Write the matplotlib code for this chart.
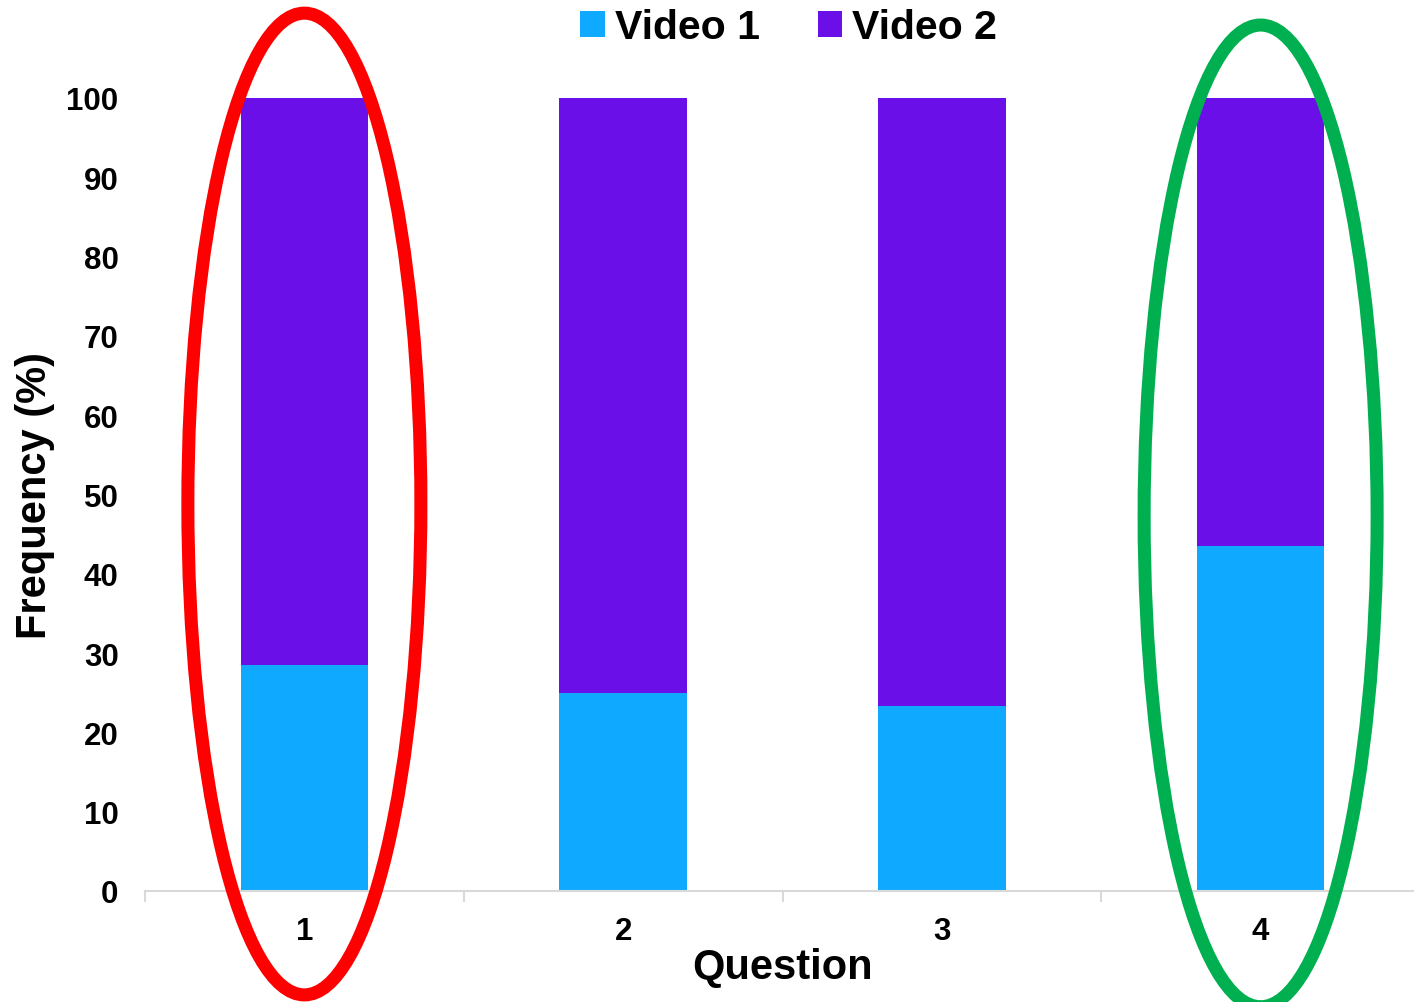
import matplotlib
matplotlib.use("Agg")
import matplotlib.pyplot as plt
from matplotlib.patches import Ellipse
import numpy as np

categories = ["1", "2", "3", "4"]
video1 = [28.5, 25.0, 23.3, 43.5]
video2 = [71.5, 75.0, 76.7, 56.5]
yticks = [0, 10, 20, 30, 40, 50, 60, 70, 80, 90, 100]

c1 = "#0FA9FF"
c2 = "#6B0FE8"

plt.rcParams['font.family'] = ['Liberation Sans', 'DejaVu Sans']
plt.rcParams['font.weight'] = 'bold'

fig = plt.figure(figsize=(14.14, 10.03), dpi=100)
ax = fig.add_axes([145/1414, 111/1003, 1275/1414, 793/1003])

x = np.arange(len(categories))
ax.bar(x, video1, width=0.40, color=c1, label="Video 1", zorder=2)
ax.bar(x, video2, width=0.40, bottom=video1, color=c2, label="Video 2", zorder=2)

ax.set_xlim(-0.5, 3.5)
ax.set_ylim(0, 100)
ax.set_yticks(yticks)
ax.set_yticklabels([str(t) for t in yticks], fontsize=22.5, fontweight='bold')
ax.set_xticks(x)
ax.set_xticklabels(categories, fontsize=22.5, fontweight='bold')
ax.tick_params(axis='y', length=0, pad=19)
ax.tick_params(axis='x', which='major', length=0, pad=18)
ax.set_xticks(np.arange(-0.5, 4.0, 1.0), minor=True)
ax.tick_params(axis='x', which='minor', length=8, color='#d9d9d9', width=1.5)

for s in ['top', 'right', 'left']:
    ax.spines[s].set_visible(False)
ax.spines['bottom'].set_color('#d9d9d9')
ax.spines['bottom'].set_linewidth(1.5)

ax.set_ylabel("Frequency (%)", fontsize=30, fontweight='bold', labelpad=8)
ax.set_xlabel("Question", fontsize=30, fontweight='bold', labelpad=1)

ax.legend(loc='upper center', bbox_to_anchor=(0.505, 1.16), ncol=2, frameon=False,
          prop={'family': 'Liberation Sans', 'weight': 'bold', 'size': 29.5},
          handlelength=0.6, handleheight=0.6, handletextpad=0.25, columnspacing=1.4)

ax.add_patch(Ellipse((0.0, 48.8), 0.731, 123.8, fill=False, edgecolor='#FF0000',
                     linewidth=9.4, clip_on=False, zorder=5))
ax.add_patch(Ellipse((3.0, 47.3), 0.731, 123.8, fill=False, edgecolor='#00B050',
                     linewidth=9.4, clip_on=False, zorder=5))

fig.savefig("out.png", dpi=100)
